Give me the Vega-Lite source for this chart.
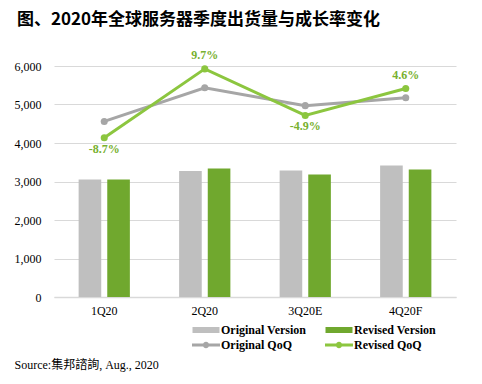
{
  "$schema": "https://vega.github.io/schema/vega-lite/v6.json",
  "width": 402,
  "height": 231,
  "autosize": {"type": "none"},
  "padding": {"left": 54, "top": 66, "right": 26, "bottom": 87},
  "background": "white",
  "title": {
    "text": "图、2020年全球服务器季度出货量与成长率变化",
    "anchor": "start",
    "frame": "group",
    "dx": -37,
    "dy": -10,
    "font": "Noto Sans CJK SC",
    "fontSize": 17,
    "fontWeight": "bold",
    "color": "#000000",
    "offset": 10
  },
  "datasets": {
    "bars": [
      {"quarter": "1Q20", "series": "Original Version", "value": 3050},
      {"quarter": "1Q20", "series": "Revised Version", "value": 3050},
      {"quarter": "2Q20", "series": "Original Version", "value": 3270},
      {"quarter": "2Q20", "series": "Revised Version", "value": 3340},
      {"quarter": "3Q20E", "series": "Original Version", "value": 3285},
      {"quarter": "3Q20E", "series": "Revised Version", "value": 3180},
      {"quarter": "4Q20F", "series": "Original Version", "value": 3415},
      {"quarter": "4Q20F", "series": "Revised Version", "value": 3310}
    ],
    "lines": [
      {"quarter": "1Q20", "series": "Original QoQ", "value": 4560},
      {"quarter": "2Q20", "series": "Original QoQ", "value": 5435},
      {"quarter": "3Q20E", "series": "Original QoQ", "value": 4970},
      {"quarter": "4Q20F", "series": "Original QoQ", "value": 5175},
      {"quarter": "1Q20", "series": "Revised QoQ", "value": 4135, "qoq": -8.7, "label": "-8.7%"},
      {"quarter": "2Q20", "series": "Revised QoQ", "value": 5925, "qoq": 9.7, "label": "9.7%"},
      {"quarter": "3Q20E", "series": "Revised QoQ", "value": 4715, "qoq": -4.9, "label": "-4.9%"},
      {"quarter": "4Q20F", "series": "Revised QoQ", "value": 5415, "qoq": 4.6, "label": "4.6%"}
    ]
  },
  "encoding": {
    "x": {
      "field": "quarter",
      "type": "nominal",
      "sort": ["1Q20", "2Q20", "3Q20E", "4Q20F"],
      "scale": {"paddingInner": 0.49, "paddingOuter": 0.245},
      "axis": {
        "title": "Source:集邦諮詢, Aug., 2020",
        "titleX": -40,
        "titleY": 67,
        "titleAlign": "left",
        "titleBaseline": "middle",
        "titleFont": "Liberation Serif, Noto Sans CJK TC",
        "titleFontSize": 12,
        "titleFontWeight": "normal",
        "titleColor": "#000000",
        "labelAngle": 0,
        "labelFont": "Liberation Serif",
        "labelFontSize": 12,
        "labelColor": "#000000",
        "labelPadding": 8,
        "ticks": false,
        "grid": false,
        "domainColor": "#d9d9d9",
        "domainWidth": 1.5
      }
    },
    "y": {
      "field": "value",
      "type": "quantitative",
      "scale": {"domain": [0, 6000]},
      "axis": {
        "title": null,
        "values": [0, 1000, 2000, 3000, 4000, 5000, 6000],
        "format": ",.0f",
        "domain": false,
        "ticks": false,
        "grid": true,
        "labelPadding": 13,
        "labelFont": "Liberation Serif",
        "labelFontSize": 12,
        "labelColor": "#000000",
        "gridColor": "#d9d9d9"
      }
    },
    "color": {
      "field": "series",
      "type": "nominal",
      "sort": ["Original Version", "Revised Version", "Original QoQ", "Revised QoQ"],
      "scale": {
        "domain": ["Original Version", "Revised Version", "Original QoQ", "Revised QoQ"],
        "range": ["#bfbfbf", "#70a82e", "#a6a6a6", "#8cc63f"]
      },
      "legend": {
        "title": null,
        "orient": "none",
        "direction": "horizontal",
        "legendX": 146,
        "legendY": 258,
        "columns": 2,
        "columnPadding": 18,
        "rowPadding": 3,
        "padding": 0,
        "labelFont": "Liberation Serif",
        "labelFontSize": 12,
        "labelFontWeight": "bold",
        "labelColor": "#000000",
        "labelOffset": 9,
        "symbolSize": 100,
        "encode": {
          "symbols": {
            "update": {
              "shape": {"signal": "indexof(['Original QoQ','Revised QoQ'], datum.value) >= 0 ? 'M-2.8,-0.3H2.8V0.3H-2.8Z M-0.64,0A0.64,0.64 0 1,1 0.64,0A0.64,0.64 0 1,1 -0.64,0Z' : 'M-2.7,-0.6H2.7V0.6H-2.7Z'"},
              "size": {"value": 100},
              "fill": {"scale": "color", "field": "value"},
              "strokeWidth": {"value": 0},
              "opacity": {"value": 1}
            }
          }
        }
      }
    }
  },
  "layer": [
    {
      "data": {"name": "bars"},
      "mark": {"type": "bar"},
      "encoding": {
        "xOffset": {"field": "series", "type": "nominal", "sort": ["Original Version", "Revised Version"], "scale": {"paddingInner": 0.21, "paddingOuter": 0}}
      }
    },
    {
      "data": {"name": "lines"},
      "mark": {"type": "line", "strokeWidth": 3, "point": {"filled": true, "size": 50, "opacity": 1}}
    },
    {
      "data": {"name": "lines"},
      "transform": [{"filter": "datum.qoq < 0"}],
      "mark": {"type": "text", "dy": 11, "font": "Liberation Serif", "fontSize": 12, "fontWeight": "bold"},
      "encoding": {
        "color": {"value": "#77b02e"},
        "text": {"field": "label", "type": "nominal"}
      }
    },
    {
      "data": {"name": "lines"},
      "transform": [{"filter": "datum.qoq > 0"}],
      "mark": {"type": "text", "dy": -14, "font": "Liberation Serif", "fontSize": 12, "fontWeight": "bold"},
      "encoding": {
        "color": {"value": "#77b02e"},
        "text": {"field": "label", "type": "nominal"}
      }
    }
  ],
  "config": {
    "view": {"stroke": null}
  }
}
